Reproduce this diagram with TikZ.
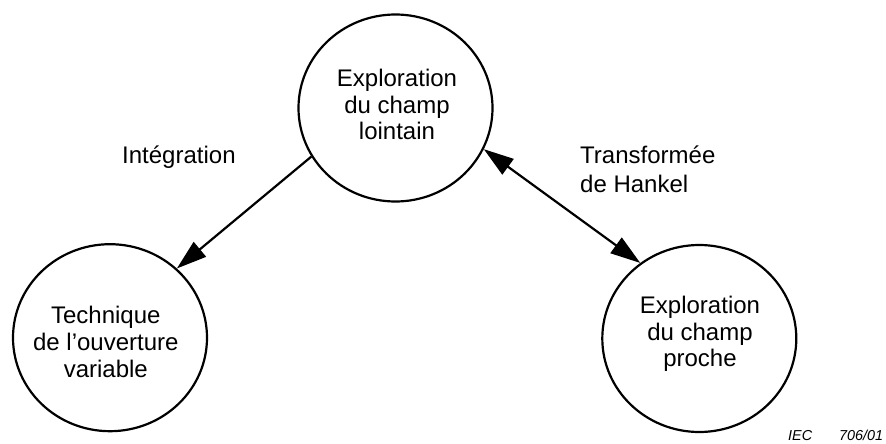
\documentclass[tikz,border=0pt]{standalone}
\usepackage{fontspec}
\setmainfont{Liberation Sans}
\usetikzlibrary{shapes.geometric,arrows.meta}
\tikzset{
  bubble/.style={ellipse, draw, line width=2.2pt, minimum width=194pt, minimum height=187pt, inner sep=0pt},
  bubbletext/.style={align=center, inner sep=0pt, font=\fontsize{24}{26.7}\selectfont},
  lbl/.style={inner sep=0pt, font=\fontsize{24}{29.5}\selectfont},
  conn/.style={line width=2.2pt, -{Triangle[length=30pt,width=19pt]}},
  conn2/.style={line width=2.2pt, {Triangle[length=30pt,width=19pt]}-{Triangle[length=30pt,width=19pt]}},
  credit/.style={inner sep=0pt, font=\fontsize{14.4}{16}\selectfont\itshape}
}
\begin{document}
\begin{tikzpicture}[x=1pt,y=-1pt]
\useasboundingbox[fill=white] (0,0) rectangle (886,444);
% circles
\node[bubble] (far) at (395.5,108) {};
\node[bubble] (aper) at (110,337.7) {};
\node[bubble] (near) at (699.3,338.5) {};
% circle texts
\node[bubbletext] (fart) at (397,104.6) {Exploration\\du champ\\lointain};
\node[bubbletext] (apert) at (105.8,341.8) {Technique\\de l’ouverture\\variable};
\node[bubbletext] (neart) at (700,334) {Exploration\\du champ\\proche};
% connectors
\draw[conn] (far.210) -- (aper.46);
\draw[conn2] (far.335) -- (near.128);
% labels
\node[lbl, anchor=base west] (integ) at (122,163) {Intégration};
\node[lbl, anchor=west, align=left] (hankel) at (580,169.2) {Transformée\\de Hankel};
\node[credit, anchor=base west] (iec) at (788,440.3) {IEC\hspace{27pt}706/01};
\end{tikzpicture}
\end{document}
